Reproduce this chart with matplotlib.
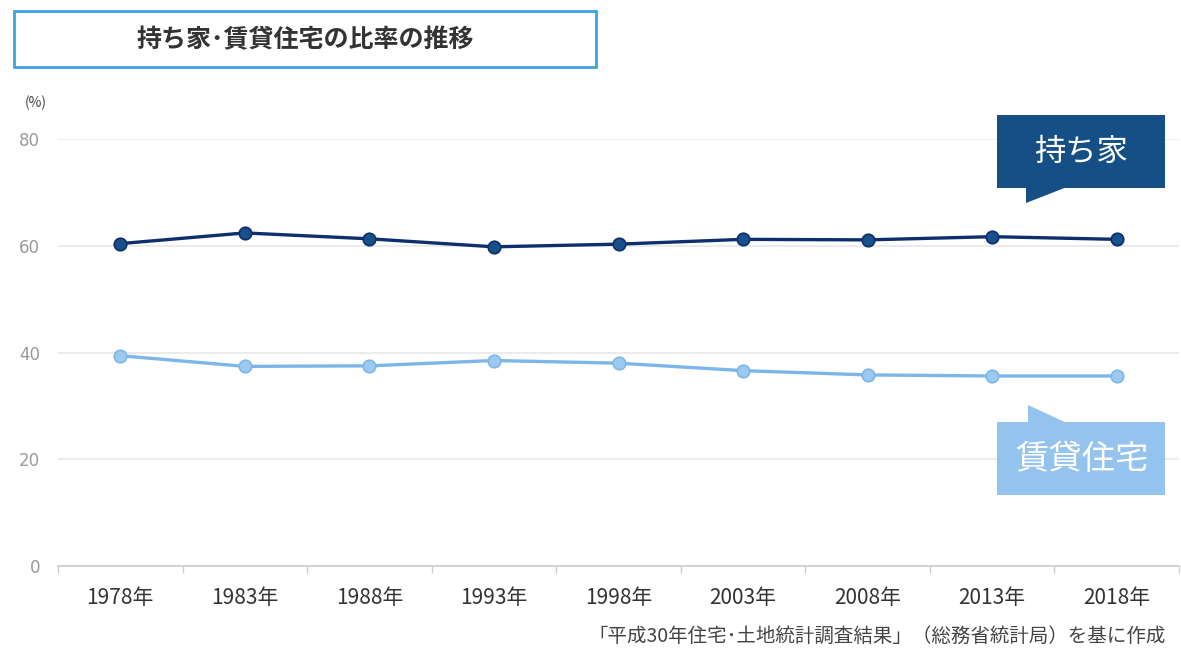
import matplotlib
matplotlib.use("Agg")
import matplotlib.pyplot as plt
from matplotlib.patches import Rectangle, Polygon

plt.rcParams['font.family'] = ['Noto Sans CJK JP', 'DejaVu Sans']

# data
years = ["1978年", "1983年", "1988年", "1993年", "1998年", "2003年", "2008年", "2013年", "2018年"]
owned = [60.4, 62.4, 61.3, 59.8, 60.3, 61.2, 61.1, 61.7, 61.2]
rented = [39.4, 37.4, 37.5, 38.5, 38.0, 36.6, 35.8, 35.6, 35.6]
yticks = [0, 20, 40, 60, 80]

W, H = 1181, 658
fig = plt.figure(figsize=(W / 100, H / 100), dpi=100)

def fx(px):
    return px / W

def fy(py):
    return 1 - py / H

ax = fig.add_axes([fx(58), fy(566), fx(1179) - fx(58), fy(139) - fy(566)])
xs = list(range(len(years)))

ax.plot(xs, owned, color="#0d2f6b", lw=2.4, marker="o", ms=9,
        mfc="#17508a", mec="#0d2f6b", mew=1.2, zorder=3)
ax.plot(xs, rented, color="#7db6e8", lw=2.4, marker="o", ms=9,
        mfc="#9cc9f0", mec="#7db6e8", mew=1.2, zorder=3)

ax.set_xlim(-0.5, len(years) - 0.5)
ax.set_ylim(0, 80)
ax.set_yticks(yticks)
ax.set_yticklabels([str(v) for v in yticks], color="#999999", fontsize=12,
                   family=['DejaVu Sans'])
ax.yaxis.grid(True, color="#e8e8e8", lw=1.2)
ax.set_axisbelow(True)
ax.tick_params(axis="y", length=0, pad=13)

ax.set_xticks(xs)
ax.set_xticklabels(years, color="#333333", fontsize=15)
ax.tick_params(axis="x", length=0, pad=15)
ax.set_xticks([i - 0.5 for i in range(len(years) + 1)], minor=True)
ax.tick_params(axis="x", which="minor", length=5, color="#cccccc", width=1)

for s in ["top", "right", "left"]:
    ax.spines[s].set_visible(False)
ax.spines["bottom"].set_color("#cccccc")
ax.spines["bottom"].set_linewidth(1.2)

# title box
fig.patches.append(Rectangle((fx(14), fy(67)), fx(596) - fx(14), fy(11) - fy(67),
                             transform=fig.transFigure, fill=False,
                             edgecolor="#3ea2e0", lw=2))
fig.text(fx(305), fy(40), "持ち家･賃貸住宅の比率の推移", ha="center", va="center",
         fontsize=18, fontweight="bold", color="#333333")

fig.text(fx(36), fy(103), "(%)", ha="center", va="center", fontsize=10, color="#444444")

# callout labels
dark = "#164f86"
light = "#94c4ed"
fig.patches.append(Rectangle((fx(997), fy(188)), fx(1165) - fx(997), fy(115) - fy(188),
                             transform=fig.transFigure, color=dark, lw=0))
fig.patches.append(Polygon([(fx(1026), fy(187)), (fx(1067), fy(187)), (fx(1026), fy(203))],
                           closed=True, transform=fig.transFigure, color=dark, lw=0))
fig.text(fx(1081), fy(152), "持ち家", ha="center", va="center", fontsize=22.5, color="white")

fig.patches.append(Rectangle((fx(997), fy(495)), fx(1165) - fx(997), fy(422) - fy(495),
                             transform=fig.transFigure, color=light, lw=0))
fig.patches.append(Polygon([(fx(1028), fy(423)), (fx(1067), fy(423)), (fx(1028), fy(405))],
                           closed=True, transform=fig.transFigure, color=light, lw=0))
fig.text(fx(1082), fy(460), "賃貸住宅", ha="center", va="center", fontsize=24, color="white")

fig.text(fx(1166), fy(636), "「平成30年住宅･土地統計調査結果」（総務省統計局）を基に作成",
         ha="right", va="center", fontsize=14, color="#444444")

fig.savefig("out.png", dpi=100)
